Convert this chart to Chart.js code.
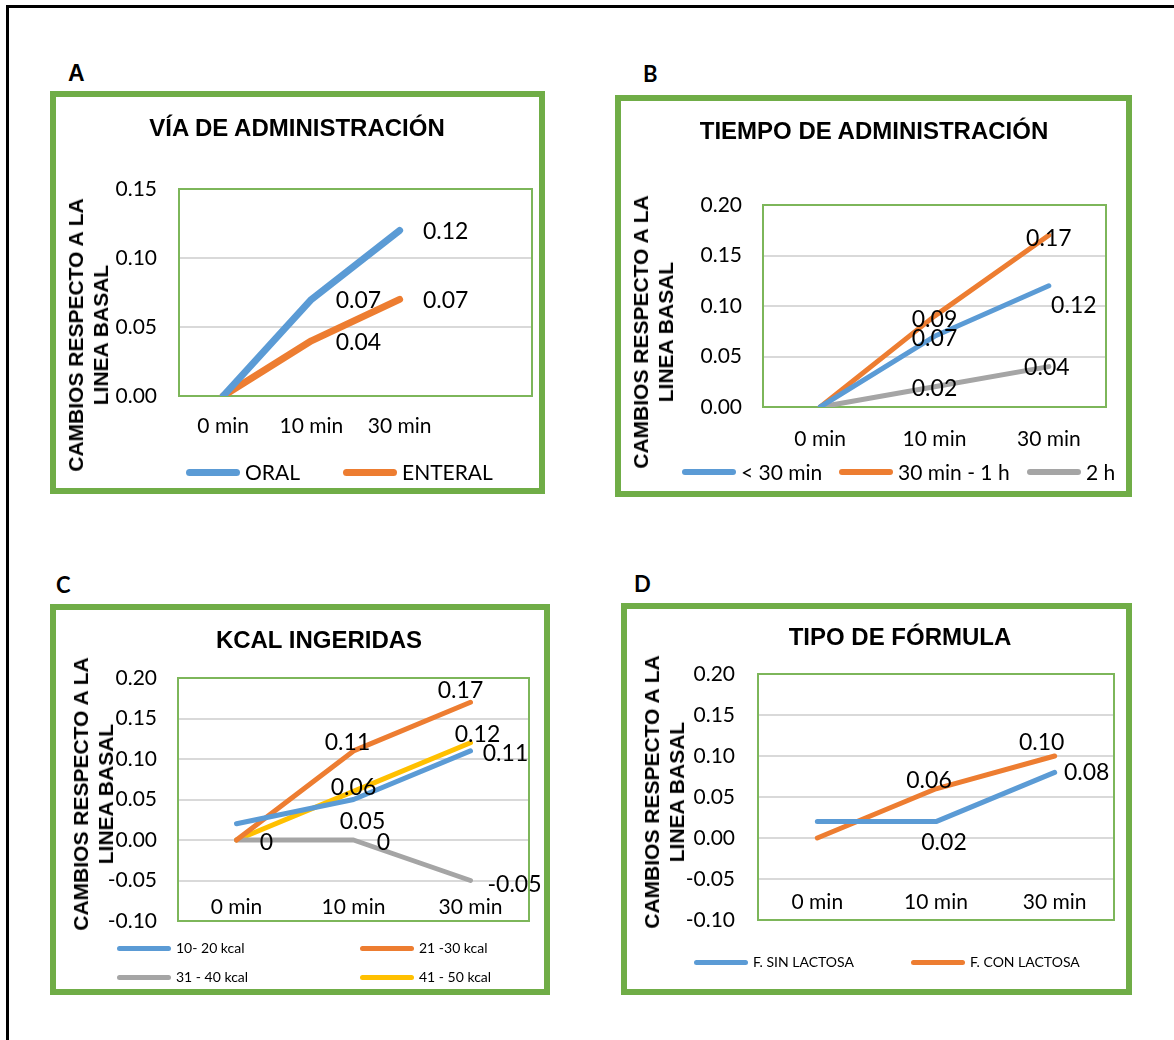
<!DOCTYPE html>
<html>
<head>
<meta charset="utf-8">
<script src="https://cdn.jsdelivr.net/npm/chart.js@4.4.0/dist/chart.umd.min.js"></script>
<style>
html, body { margin: 0; padding: 0; background: #fff; overflow: hidden; }
body { width: 1174px; height: 1040px; position: relative; font-family: Lato, sans-serif; }
#frame { position: absolute; left: 6px; top: 5px; width: 1200px; height: 1100px; border: 3px solid #000; }
.box { position: absolute; border: 6px solid #70AD47; box-sizing: border-box; }
.box canvas { position: absolute; left: 0; top: 0; }
.letter { position: absolute; font: bold 22px/1 Lato; }
.ttl { position: absolute; font: bold 24px/1 "Liberation Sans"; white-space: nowrap; transform: translate(-50%, -50%); }
.ytl { position: absolute; font: bold 21px/25px "Liberation Sans"; text-align: center; white-space: nowrap;
       transform: translate(-50%, -50%) rotate(-90deg); }
.legln { position: absolute; border-radius: 4px; }
.legtx { position: absolute; white-space: nowrap; font-family: Lato; line-height: 1; color: #000; }
</style>
</head>
<body>
<div id="frame"></div>

<div class="letter" style="left:68px;top:62px;font-family:'Liberation Sans';font-size:23px">A</div>
<div class="letter" style="left:643px;top:63px">B</div>
<div class="letter" style="left:56px;top:574px">C</div>
<div class="letter" style="left:634px;top:573px">D</div>

<div class="box" style="left:50px;top:91px;width:495px;height:403px"><canvas id="chartA" width="483" height="391"></canvas></div>
<div class="box" style="left:615px;top:95px;width:517px;height:402px"><canvas id="chartB" width="505" height="390"></canvas></div>
<div class="box" style="left:50px;top:604px;width:500px;height:391px"><canvas id="chartC" width="488" height="379"></canvas></div>
<div class="box" style="left:621px;top:603px;width:511px;height:392px"><canvas id="chartD" width="499" height="380"></canvas></div>

<div class="ttl" style="left:297px;top:128px">VÍA DE ADMINISTRACIÓN</div>
<div class="ttl" style="left:874px;top:131px">TIEMPO DE ADMINISTRACIÓN</div>
<div class="ttl" style="left:319px;top:640px">KCAL INGERIDAS</div>
<div class="ttl" style="left:900px;top:637px">TIPO DE FÓRMULA</div>

<div class="ytl" style="left:88px;top:335px">CAMBIOS RESPECTO A LA<br>LINEA BASAL</div>
<div class="ytl" style="left:653px;top:332px">CAMBIOS RESPECTO A LA<br>LINEA BASAL</div>
<div class="ytl" style="left:93px;top:794px">CAMBIOS RESPECTO A LA<br>LINEA BASAL</div>
<div class="ytl" style="left:664px;top:792px">CAMBIOS RESPECTO A LA<br>LINEA BASAL</div>

<script>
// ---- data ----
const timeLabels = ['0 min', '10 min', '30 min'];

const viaNames = ['ORAL', 'ENTERAL'];
const viaOral = [0, 0.07, 0.12];
const viaEnteral = [0, 0.04, 0.07];

const tiempoNames = ['< 30 min', '30 min - 1 h', '2 h'];
const tiempoMenos30 = [0, 0.07, 0.12];
const tiempo30a60 = [0, 0.09, 0.17];
const tiempo2h = [0, 0.02, 0.04];

const kcalNames = ['10- 20 kcal', '21 -30 kcal', '31 - 40 kcal', '41 - 50 kcal'];
const kcal10a20 = [0.02, 0.05, 0.11];
const kcal21a30 = [0, 0.11, 0.17];
const kcal31a40 = [0, 0, -0.05];
const kcal41a50 = [0, 0.06, 0.12];

const formulaNames = ['F. SIN LACTOSA', 'F. CON LACTOSA'];
const formulaSin = [0.02, 0.02, 0.08];
const formulaCon = [0, 0.06, 0.10];

const rangeA = [0, 0.15];
const rangeB = [0, 0.20];
const rangeCD = [-0.10, 0.20];

const BLUE = '#5B9BD5', ORANGE = '#ED7D31', GREY = '#A5A5A5', YELLOW = '#FFC000';

// data labels, offset from the point the scale gives
function valueLabels(offsets) {
    return {
        id: 'valueLabels',
        afterDatasetsDraw(chart) {
            const ctx = chart.ctx;
            ctx.save();
            ctx.font = '23px Lato';
            ctx.fillStyle = '#000';
            ctx.textAlign = 'center';
            ctx.textBaseline = 'middle';
            chart.data.datasets.forEach((ds, i) => {
                const pts = chart.getDatasetMeta(i).data;
                ds.data.forEach((v, j) => {
                    const o = offsets[i][j];
                    if (!o) return;
                    const txt = v === 0 ? '0' : v.toFixed(2);
                    ctx.fillText(txt, pts[j].x + o[0], pts[j].y + o[1]);
                });
            });
            ctx.restore();
        }
    };
}

const plotFrame = {
    id: 'plotFrame',
    beforeDatasetsDraw(chart) {
        const a = chart.chartArea, ctx = chart.ctx;
        ctx.save();
        ctx.strokeStyle = '#7DB65A';
        ctx.lineWidth = 2;
        ctx.strokeRect(a.left, a.top, a.right - a.left, a.bottom - a.top);
        ctx.restore();
    }
};

function drawPanel(p) {
    new Chart(document.getElementById(p.canvas), {
        type: 'line',
        data: {
            labels: p.labels,
            datasets: p.series.map((s, i) => ({
                label: p.names[i],
                data: s,
                borderColor: p.colors[i],
                backgroundColor: p.colors[i],
                borderWidth: p.lineWidth,
                pointRadius: 0,
                borderCapStyle: 'round',
                borderJoinStyle: 'round',
                fill: false,
                tension: 0
            }))
        },
        options: {
            responsive: false,
            animation: false,
            layout: { padding: { left: 0, top: p.top, right: p.right, bottom: 0 } },
            plugins: { legend: { display: false }, tooltip: { enabled: false } },
            scales: {
                x: {
                    offset: true,
                    grid: { display: false, drawTicks: false },
                    border: { display: false },
                    ticks: {
                        color: '#000', font: { family: 'Lato', size: 21 }, padding: p.xPad,
                        mirror: !!p.xInside, maxRotation: 0, autoSkip: false
                    },
                    afterFit: s => { s.height = p.xHeight; }
                },
                y: {
                    min: p.range[0],
                    max: p.range[1],
                    grid: { color: '#D9D9D9', lineWidth: 2, drawTicks: false },
                    border: { display: false },
                    ticks: {
                        stepSize: 0.05, color: '#000', font: { family: 'Lato', size: 21 }, padding: p.yPad,
                        callback: v => v.toFixed(2)
                    },
                    afterFit: s => { s.width = p.yWidth; }
                }
            }
        },
        plugins: [plotFrame, valueLabels(p.offsets)]
    });

    // legend beside the chart, built from the same names and colours
    p.names.forEach((n, i) => {
        const [x, y] = p.legend.pos[i];
        const ln = document.createElement('div');
        ln.className = 'legln';
        ln.style.cssText = `left:${x}px;top:${y - p.legend.thick / 2}px;width:${p.legend.w}px;height:${p.legend.thick}px;background:${p.colors[i]}`;
        document.body.appendChild(ln);
        const tx = document.createElement('div');
        tx.className = 'legtx';
        tx.textContent = n;
        tx.style.cssText = `left:${x + p.legend.w + 5}px;top:${y - p.legend.size * 0.53}px;font-size:${p.legend.size}px`;
        document.body.appendChild(tx);
    });
}

drawPanel({
    canvas: 'chartA', labels: timeLabels.concat(['']), names: viaNames,
    series: [viaOral, viaEnteral], colors: [BLUE, ORANGE], lineWidth: 7,
    range: rangeA, top: 92, right: 7, yWidth: 123, xHeight: 92, yPad: 22, xPad: 18,
    offsets: [[null, [47, 1], [46, 1]], [null, [47, 2], [46, 1]]],
    legend: { pos: [[186, 472], [343, 472]], w: 54, thick: 7, size: 21 }
});

drawPanel({
    canvas: 'chartB', labels: timeLabels, names: tiempoNames,
    series: [tiempoMenos30, tiempo30a60, tiempo2h], colors: [BLUE, ORANGE, GREY], lineWidth: 5,
    range: rangeB, top: 104, right: 20, yWidth: 142, xHeight: 84, yPad: 21, xPad: 20,
    offsets: [[null, [0, 2], [25, 20]], [null, [0, 3], [0, 3]], [null, [0, 2], [-2, 1]]],
    legend: { pos: [[682, 472], [839, 472], [1027, 472]], w: 54, thick: 6, size: 21 }
});

// C and D carry their category labels inside the plot, just above its bottom edge
drawPanel({
    canvas: 'chartC', labels: timeLabels, names: kcalNames,
    series: [kcal10a20, kcal21a30, kcal31a40, kcal41a50], colors: [BLUE, ORANGE, GREY, YELLOW], lineWidth: 5,
    range: rangeCD, top: 68, right: 15, yWidth: 122, xHeight: 68, yPad: 21, xPad: 1.5, xInside: true,
    offsets: [[null, [9, 22], [35, 3]], [null, [-6, -8], [-10, -12]], [[30, 3], [30, 3], [44, 4]], [null, [0, -4], [7, -8]]],
    legend: { pos: [[117, 948], [360, 948], [117, 977], [360, 977]], w: 54, thick: 5, size: 14 }
});

drawPanel({
    canvas: 'chartD', labels: timeLabels, names: formulaNames,
    series: [formulaSin, formulaCon], colors: [BLUE, ORANGE], lineWidth: 5,
    range: rangeCD, top: 65, right: 12, yWidth: 131, xHeight: 69, yPad: 23, xPad: 5.5, xInside: true,
    offsets: [[null, [8, 21], [32, 0]], [null, [-7, -8], [-13, -13]]],
    legend: { pos: [[694, 962], [911, 962]], w: 54, thick: 5, size: 14 }
});
</script>
</body>
</html>
